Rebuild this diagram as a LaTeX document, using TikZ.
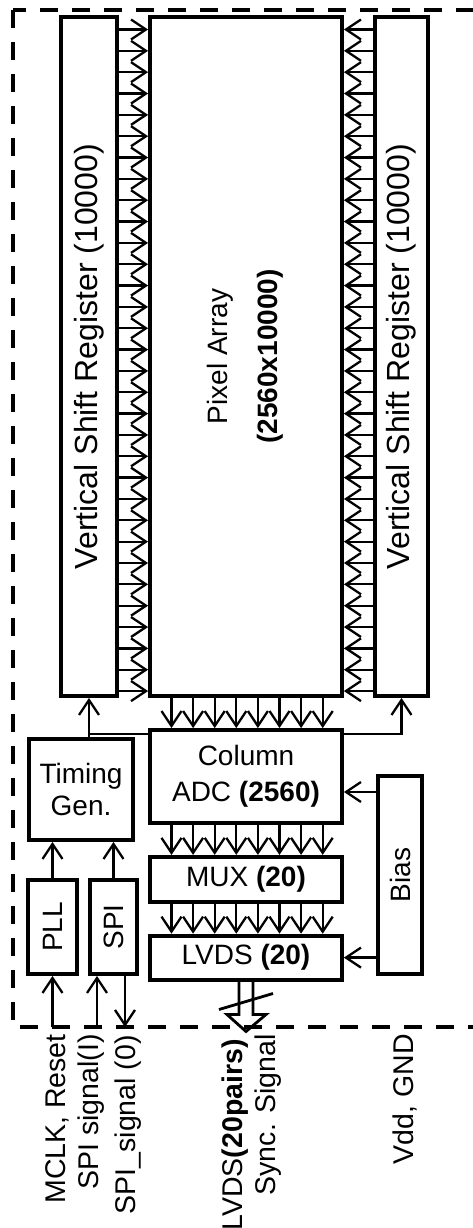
\documentclass[tikz,border=0pt]{standalone}
\usepackage{fontspec}
\setmainfont{Liberation Sans}
\usetikzlibrary{arrows.meta,positioning,calc}

\begin{document}
\begin{tikzpicture}[
  x=1pt,y=-1pt,
  font=\fontsize{28}{32}\selectfont,
  block/.style={draw,line width=3.8pt,inner sep=0pt,align=center},
  arr/.style={-{Straight Barb[length=15pt,width=20pt]},line width=2.3pt},
  wire/.style={line width=2.3pt},
  frame/.style={line width=3.5pt,dash pattern=on 18pt off 14pt},
  lbl/.style={rotate=90,anchor=east,inner sep=0pt,font=\fontsize{28.5}{32}\selectfont}
]
  \useasboundingbox (0,0) rectangle (472,1228);
  \draw[frame] (13,10) rectangle (474.5,1027);

  % sensor core
  \node[block,minimum width=192pt,minimum height=679pt] (pix) at (246,356.5)
    {\rotatebox{90}{\begin{tabular}{@{}c@{}}Pixel Array\\[18pt]\textbf{(2560x10000)}\end{tabular}}};
  \node[block,minimum width=56pt,minimum height=679pt] (lvsr) at (89,356.5)
    {\rotatebox{90}{\fontsize{32}{36}\selectfont Vertical Shift Register (10000)}};
  \node[block,minimum width=53pt,minimum height=679pt] (rvsr) at (401.5,356.5)
    {\rotatebox{90}{\fontsize{32}{36}\selectfont Vertical Shift Register (10000)}};
  \node[block,minimum width=192pt,minimum height=93pt] (adc) at (246,776.5) {Column\\[4pt]ADC \textbf{(2560)}};
  \node[block,minimum width=192pt,minimum height=45pt,below=30pt of adc] (mux) {MUX \textbf{(20)}};
  \node[block,minimum width=192pt,minimum height=44pt,below=30pt of mux] (lvds) {LVDS \textbf{(20)}};

  % control side
  \node[block,minimum width=104pt,minimum height=101pt] (tgen) at (81,789.5) {Timing\\Gen.};
  \node[block,minimum width=49pt,minimum height=94pt] (pll) at (52.5,927) {\rotatebox{90}{PLL}};
  \node[block,minimum width=47pt,minimum height=94pt] (spi) at (113.5,927) {\rotatebox{90}{SPI}};
  \node[block,minimum width=44pt,minimum height=198pt] (bias) at (400,875) {\rotatebox{90}{Bias}};

  % row select lines
  \foreach \i in {0,...,31}{
    \pgfmathsetmacro\yy{29.5+21.34*\i}
    \draw[arr] (lvsr.east |- 0,\yy) -- (pix.west |- 0,\yy);
    \draw[arr] (rvsr.west |- 0,\yy) -- (pix.east |- 0,\yy);
  }
  % column buses
  \foreach \i in {0,...,7}{
    \pgfmathsetmacro\xx{171.5+21.6*\i}
    \draw[arr] (pix.south -| \xx,0) -- (adc.north -| \xx,0);
    \draw[arr] (adc.south -| \xx,0) -- (mux.north -| \xx,0);
    \draw[arr] (mux.south -| \xx,0) -- (lvds.north -| \xx,0);
  }

  \coordinate (bus) at (0,734);
  \draw[arr] (lvsr.south |- tgen.north) -- (lvsr.south);
  \draw[wire] (lvsr.south |- bus) -- (adc.west |- bus);
  \draw[arr] (adc.east |- bus) -| (rvsr.south);
  \draw[arr] (bias.west |- 0,792) -- (adc.east |- 0,792);
  \draw[arr] (bias.west |- lvds) -- (lvds.east);
  \draw[arr] (pll.north) -- (pll.north |- tgen.south);
  \draw[arr] (spi.north) -- (spi.north |- tgen.south);

  % pads
  \coordinate (pad) at (0,1027);
  \coordinate (spiin) at (97,1027);
  \coordinate (spiout) at (125,1027);
  \draw[arr] (pll.south |- pad) -- (pll.south);
  \draw[arr] (spiin) -- (spiin |- spi.south);
  \draw[arr] (spiout |- spi.south) -- (spiout);
  \draw[wire,line width=2.8pt] ([xshift=-7pt]lvds.south) -- ++(0,33) -- ++(-12,0) -- ++(19,17)
    -- ++(20,-17) -- ++(-13,0) -- ([xshift=7pt]lvds.south);
  \draw[wire,line width=2.8pt] ($(lvds.south)+(-27,28)$) -- ++(54,-16);

  \node[lbl] (mclk) at (57.5,1034) {MCLK, Reset};
  \node[lbl] (spii) at (91.5,1034) {SPI signal(I)};
  \node[lbl] (spio) at (128,1035) {SPI\_signal (0)};
  \node[lbl] (lvdsout) at (235,1039) {LVDS\textbf{(20pairs)}};
  \node[lbl] (sync) at (268,1034) {Sync. Signal};
  \node[lbl] (vdd) at (405,1034) {Vdd, GND};
\end{tikzpicture}
\end{document}
